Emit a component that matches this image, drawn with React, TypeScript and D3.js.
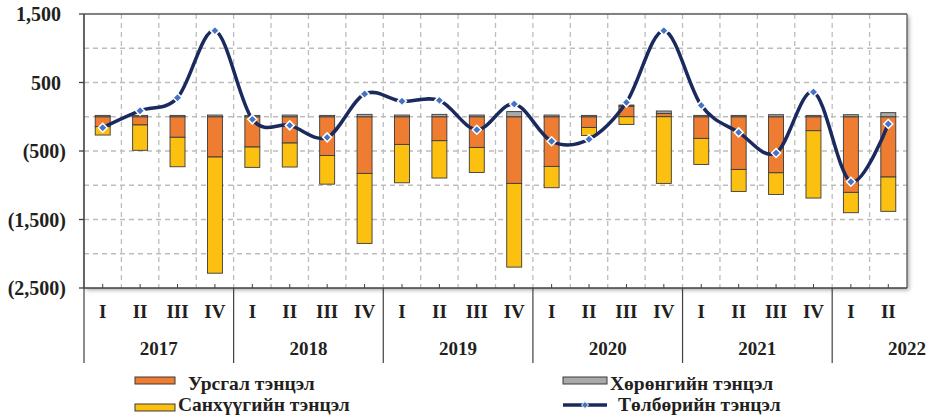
import React from "react";
import * as d3 from "d3";

const quarters = ["I","II","III","IV","I","II","III","IV","I","II","III","IV","I","II","III","IV","I","II","III","IV","I","II"];
const years = ["2017","2018","2019","2020","2021","2022"];
const yearCounts = [4,4,4,4,4,2];
const currentAccount = [-146,-120,-300,-588,-442,-384,-565,-827,-404,-350,-448,-973,-725,-156,156,49,-316,-769,-818,-204,-1104,-880];
const capitalAccount = [20,20,20,25,20,25,20,35,25,35,25,75,25,20,15,35,20,20,30,20,30,60];
const financialAccount = [-121,-370,-430,-1696,-297,-350,-419,-1022,-560,-545,-365,-1222,-311,-117,-112,-973,-380,-321,-316,-983,-297,-501];
const overallBalance = [-160,88,278,1257,-38,-126,-301,332,225,239,-189,186,-358,-329,210,1257,166,-228,-529,361,-948,-106];
const yTicks = [1500,1000,500,0,-500,-1000,-1500,-2000,-2500];
const yLabelTicks = [1500,500,-500,-1500,-2500];

const seriesKeys = ["current","capital","financial"];
const seriesColors: Record<string,string> = { current: "#EE7D31", capital: "#A9A9A9", financial: "#FCC010" };
const legendLabels = ["Урсгал тэнцэл","Санхүүгийн тэнцэл","Хөрөнгийн тэнцэл","Төлбөрийн тэнцэл"];

const W = 930, H = 416;
const L = 84, R = 907, T = 14, B = 288;
const FONT = "'Liberation Serif', 'Times New Roman', serif";

function fmt(v: number) {
  const s = d3.format(",")(Math.abs(v));
  return v < 0 ? `(${s})` : s;
}

export default function App() {
  const idx = quarters.map((_, i) => i);
  const x = d3.scaleBand<number>().domain(idx).range([L, R]).paddingInner(0.6).paddingOuter(0.3);
  const step = x.step();
  const y = d3.scaleLinear().domain([-2500, 1500]).range([B, T]);
  const rows = idx.map(i => ({ i, current: currentAccount[i], capital: capitalAccount[i], financial: financialAccount[i] }));
  const stack = d3.stack<any>().keys(seriesKeys).offset(d3.stackOffsetDiverging);
  const stacked = stack(rows);
  const cx = (i: number) => (x(i) as number) + x.bandwidth() / 2;
  const line = d3.line<number>().x((_, i) => cx(i)).y(v => y(v)).curve(d3.curveCardinal.tension(0));
  const boundaries = d3.range(quarters.length + 1).map(k => L + k * step);
  let acc = 0;
  const yearGroups = years.map((yr, j) => {
    const start = acc; acc += yearCounts[j];
    return { yr, start, end: acc };
  });
  const diamond = (px: number, py: number, r: number) => `M${px},${py - r}L${px + r},${py}L${px},${py + r}L${px - r},${py}Z`;

  return (
    <svg width={W} height={H} style={{ position: "absolute", left: 0, top: 0, background: "#fff" }} fontFamily={FONT}>
      <defs>
        <filter id="sh" x="-5%" y="-5%" width="110%" height="115%">
          <feDropShadow dx="2" dy="2" stdDeviation="2" floodColor="#000" floodOpacity="0.35" />
        </filter>
      </defs>
      <rect x={L} y={T} width={R - L} height={B - T} fill="#fff" filter="url(#sh)" />
      {/* grid */}
      {yTicks.filter(t => t !== 1500 && t !== -2500).map(t => (
        <line key={"h" + t} x1={L} x2={R} y1={y(t)} y2={y(t)} stroke="#BDBDBD" strokeWidth={1.3} strokeDasharray="5,4" />
      ))}
      {boundaries.slice(1, -1).map((bx, k) => (
        <line key={"v" + k} x1={bx} x2={bx} y1={T} y2={B} stroke="#BDBDBD" strokeWidth={1.3} strokeDasharray="5,4" />
      ))}
      {/* border */}
      <line x1={L} x2={R} y1={T} y2={T} stroke="#5a5a5a" strokeWidth={1.3} />
      <line x1={R} x2={R} y1={T} y2={B} stroke="#5a5a5a" strokeWidth={1.3} />
      {/* bars */}
      {stacked.map(s => (
        <g key={s.key}>
          {s.map((d, i) => {
            const y0 = y(d[0]), y1 = y(d[1]);
            const h = Math.abs(y0 - y1);
            if (h < 0.01) return null;
            return <rect key={i} x={x(i)} y={Math.min(y0, y1)} width={x.bandwidth()} height={h}
              fill={seriesColors[s.key]} stroke="#3a3a3a" strokeWidth={0.9} />;
          })}
        </g>
      ))}
      {/* axes */}
      <line x1={L} x2={L} y1={T} y2={B} stroke="#404040" strokeWidth={1.6} />
      <line x1={L} x2={R} y1={B} y2={B} stroke="#404040" strokeWidth={1.6} />
      {yLabelTicks.map(t => (
        <g key={"yl" + t}>
          <line x1={L - 5} x2={L} y1={y(t)} y2={y(t)} stroke="#404040" strokeWidth={1.3} />
          <text x={t < 0 ? 66 : 61} y={y(t)} dy="0.35em" textAnchor="end" fontSize={20} fontWeight="bold" fill="#231f20">{fmt(t)}</text>
        </g>
      ))}
      {idx.map(i => (
        <line key={"xt" + i} x1={cx(i)} x2={cx(i)} y1={B - 4} y2={B} stroke="#404040" strokeWidth={1} />
      ))}
      {yearGroups.map(g => (
        <line key={"ys" + g.yr} x1={L + g.start * step} x2={L + g.start * step} y1={B} y2={363} stroke="#404040" strokeWidth={1.2} />
      ))}
      {quarters.map((q, i) => (
        <text key={"q" + i} x={cx(i)} y={318} textAnchor="middle" fontSize={19} fontWeight="bold" fill="#231f20">{q}</text>
      ))}
      {yearGroups.map((g, j) => {
        const last = j === yearGroups.length - 1;
        return (
          <text key={"yr" + g.yr} x={last ? R + 19 : L + ((g.start + g.end) / 2) * step} y={355}
            textAnchor={last ? "end" : "middle"} fontSize={19} fontWeight="bold" fill="#231f20">{g.yr}</text>
        );
      })}
      {/* line */}
      <path d={line(overallBalance) || ""} fill="none" stroke="#1B2A5E" strokeWidth={3.5} />
      {overallBalance.map((v, i) => (
        <path key={"m" + i} d={diamond(cx(i), y(v), 4.5)} fill="#4472C4" stroke="#fff" strokeWidth={1.5} />
      ))}
      {/* legend */}
      <rect x={135} y={377} width={40} height={7} fill={seriesColors.current} stroke="#3a3a3a" strokeWidth={1} />
      <text x={188} y={390} fontSize={19.5} fontWeight="bold" fill="#231f20">{legendLabels[0]}</text>
      <rect x={135} y={404} width={40} height={7} fill={seriesColors.financial} stroke="#3a3a3a" strokeWidth={1} />
      <text x={178} y={411} fontSize={19.5} fontWeight="bold" fill="#231f20">{legendLabels[1]}</text>
      <rect x={563} y={377} width={44} height={7} fill={seriesColors.capital} stroke="#3a3a3a" strokeWidth={1} />
      <text x={610} y={390} fontSize={19.5} fontWeight="bold" fill="#231f20">{legendLabels[2]}</text>
      <line x1={563} x2={607} y1={405} y2={405} stroke="#1B2A5E" strokeWidth={3.5} />
      <path d={diamond(585, 405, 3.5)} fill="#4472C4" stroke="#fff" strokeWidth={1} />
      <text x={618} y={411} fontSize={19.5} fontWeight="bold" fill="#231f20">{legendLabels[3]}</text>
    </svg>
  );
}
